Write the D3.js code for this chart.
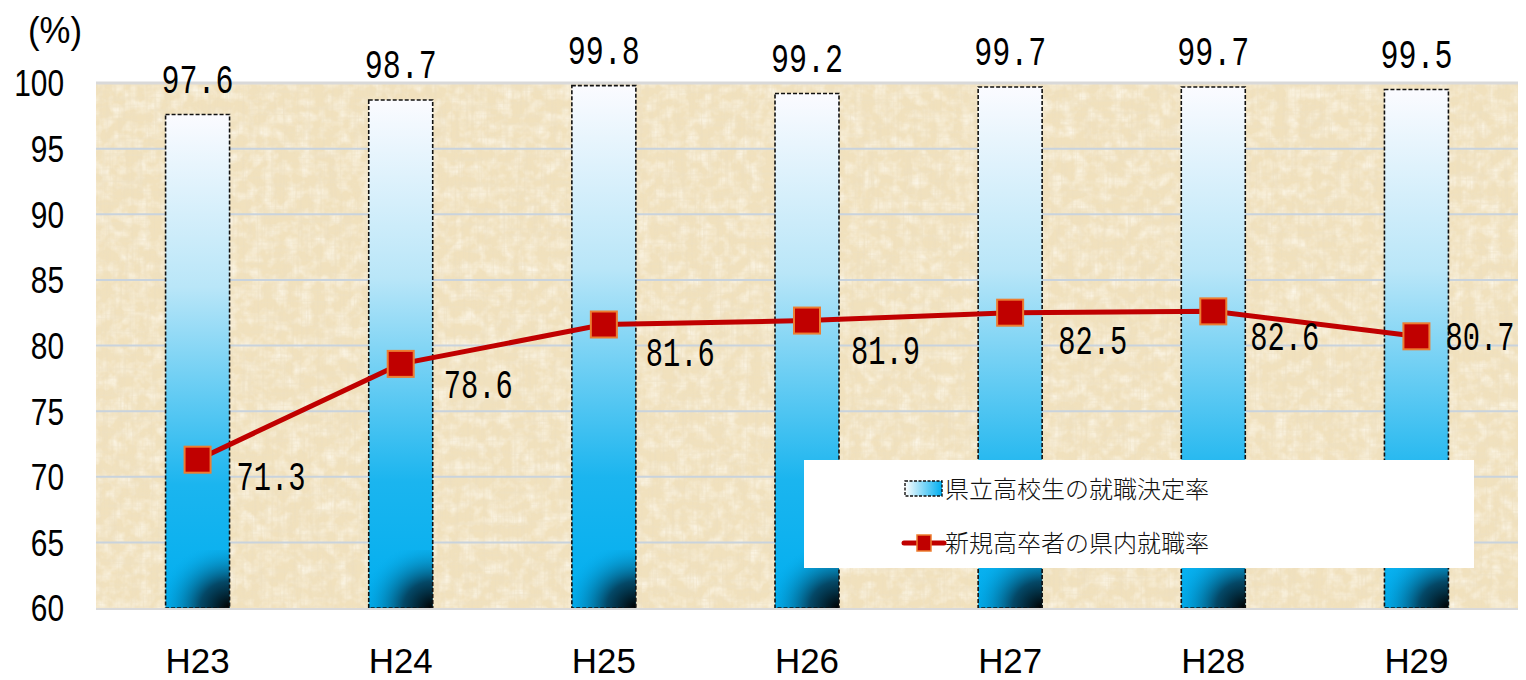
<!DOCTYPE html>
<html><head><meta charset="utf-8">
<script src="https://cdn.jsdelivr.net/npm/d3@7"></script>
<style>body{margin:0;background:#fff;}svg{display:block;}</style>
</head><body>
<svg id="chart" width="1526" height="680"></svg>
<script>
const categories = ["H23","H24","H25","H26","H27","H28","H29"];
const barValues = [97.6, 98.7, 99.8, 99.2, 99.7, 99.7, 99.5];
const lineValues = [71.3, 78.6, 81.6, 81.9, 82.5, 82.6, 80.7];
const yTicks = [60,65,70,75,80,85,90,95,100];
const barName = "県立高校生の就職決定率";
const lineName = "新規高卒者の県内就職率";
// label placement offsets (layout only), in pixels from the marker centre
const lineLabelDx = [39, 43, 42, 44, 48, 37, 29];
const lineLabelDy = [16, 20, 27, 29, 27, 25, 0];

const svg = d3.select("#chart");
const pL = 96, pR = 1518, pT = 83, pB = 608;
const x = d3.scaleBand().domain(categories).range([pL, pR]).paddingInner(0.685).paddingOuter(0.3425);
const y = d3.scaleLinear().domain([60, 100]).range([pB, pT]);

const defs = svg.append("defs");
const bg = defs.append("linearGradient").attr("id","barGrad").attr("x1",0).attr("y1",0).attr("x2",0).attr("y2",1);
bg.append("stop").attr("offset","0%").attr("stop-color","#fbfbff");
bg.append("stop").attr("offset","35%").attr("stop-color","#b9e6f8");
bg.append("stop").attr("offset","75%").attr("stop-color","#1bb5ef");
bg.append("stop").attr("offset","100%").attr("stop-color","#00aeef");
const rg = defs.append("radialGradient").attr("id","darkGrad").attr("cx","100%").attr("cy","100%").attr("r","115%").attr("fx","100%").attr("fy","100%");
rg.append("stop").attr("offset","0%").attr("stop-color","#000").attr("stop-opacity",1);
rg.append("stop").attr("offset","40%").attr("stop-color","#04364f").attr("stop-opacity",0.85);
rg.append("stop").attr("offset","100%").attr("stop-color","#00aeef").attr("stop-opacity",0);
const lg = defs.append("linearGradient").attr("id","legGrad").attr("x1",0).attr("y1",0).attr("x2",1).attr("y2",0);
lg.append("stop").attr("offset","0%").attr("stop-color","#ffffff");
lg.append("stop").attr("offset","100%").attr("stop-color","#00aeef");

function texFilter(id, freq, seed, rgb, a, b) {
  const f = defs.append("filter").attr("id",id).attr("x",0).attr("y",0).attr("width","100%").attr("height","100%");
  f.append("feTurbulence").attr("type","fractalNoise").attr("baseFrequency",freq).attr("numOctaves",3).attr("seed",seed).attr("result","n");
  f.append("feColorMatrix").attr("in","n").attr("type","matrix")
   .attr("values",`0 0 0 0 ${rgb[0]}  0 0 0 0 ${rgb[1]}  0 0 0 0 ${rgb[2]}  ${a} 0 0 0 ${b}`).attr("result","c");
  f.append("feComposite").attr("in","c").attr("in2","SourceGraphic").attr("operator","in");
}
texFilter("texV", "0.35 0.02", 3, [0.84,0.73,0.52], 1.4, -0.62);
texFilter("texH", "0.02 0.35", 7, [0.85,0.75,0.55], 1.4, -0.64);
texFilter("texL", "0.08 0.08", 11, [1,0.98,0.92], 1.4, -0.55);

// plot background
const bgG = svg.append("g");
bgG.append("rect").attr("x",pL).attr("y",pT).attr("width",pR-pL).attr("height",pB-pT).attr("fill","#f1e1bd");
["texL","texV","texH"].forEach(id => {
  bgG.append("rect").attr("x",pL).attr("y",pT).attr("width",pR-pL).attr("height",pB-pT).attr("fill","#fff").attr("filter",`url(#${id})`);
});

// gridlines
svg.append("g").selectAll("line").data(yTicks.filter(d=>d>60 && d<100)).join("line")
  .attr("x1",pL).attr("x2",pR).attr("y1",d=>y(d)).attr("y2",d=>y(d))
  .attr("stroke","#c9d3dd").attr("stroke-width",2);
svg.append("line").attr("x1",pL).attr("x2",pR).attr("y1",pT).attr("y2",pT).attr("stroke","#d9d9d9").attr("stroke-width",3);

// y axis
const yAxis = d3.axisLeft(y).tickValues(yTicks).tickSize(0).tickPadding(0);
const ya = svg.append("g").attr("transform","translate(64,0)").call(yAxis);
ya.select(".domain").remove();
ya.selectAll("text").attr("font-family","Liberation Sans, Arial, sans-serif").attr("font-size",36).attr("fill","#000").attr("dy","0.36em")
  .attr("textLength", d => String(d).length*16.6).attr("lengthAdjust","spacingAndGlyphs");

// x axis
const xAxis = d3.axisBottom(x).tickSize(0).tickPadding(0);
const xa = svg.append("g").attr("transform","translate(0,648)").call(xAxis);
xa.select(".domain").remove();
xa.selectAll("text").attr("font-family","Liberation Sans, Arial, sans-serif").attr("font-size",35).attr("fill","#000").attr("dy","0.71em")
  .attr("textLength",64).attr("lengthAdjust","spacingAndGlyphs");

// bars
const bars = svg.append("g");
bars.selectAll("rect.bar").data(barValues).join("rect").attr("class","bar")
  .attr("x",(d,i)=>x(categories[i])).attr("width",x.bandwidth())
  .attr("y",d=>y(d)).attr("height",d=>pB-y(d))
  .attr("fill","url(#barGrad)");
bars.selectAll("rect.dark").data(barValues).join("rect").attr("class","dark")
  .attr("x",(d,i)=>x(categories[i])).attr("width",x.bandwidth())
  .attr("y",pB-58).attr("height",58)
  .attr("fill","url(#darkGrad)");
bars.selectAll("rect.border").data(barValues).join("rect").attr("class","border")
  .attr("x",(d,i)=>x(categories[i])).attr("width",x.bandwidth())
  .attr("y",d=>y(d)).attr("height",d=>pB-y(d))
  .attr("fill","none").attr("stroke","#111").attr("stroke-width",1.6).attr("stroke-dasharray","4,2");

// x axis line
svg.append("line").attr("x1",pL).attr("x2",pR).attr("y1",pB+1).attr("y2",pB+1).attr("stroke","#d9d9d9").attr("stroke-width",2);

// bar labels
const fmt = d3.format(".1f");
svg.append("g").selectAll("text").data(barValues).join("text")
  .attr("x",(d,i)=>x(categories[i])+x.bandwidth()/2).attr("y",d=>y(d)-22)
  .attr("text-anchor","middle").attr("font-family","Liberation Mono, DejaVu Sans Mono, monospace")
  .attr("font-size",41).attr("fill","#000")
  .attr("textLength",72).attr("lengthAdjust","spacingAndGlyphs")
  .text(d=>fmt(d));

// line
const cx = i => x(categories[i]) + x.bandwidth()/2;
const line = d3.line().x((d,i)=>cx(i)).y(d=>y(d)).curve(d3.curveLinear);
svg.append("path").datum(lineValues).attr("d",line).attr("fill","none").attr("stroke","#c00000").attr("stroke-width",5);
svg.append("g").selectAll("rect").data(lineValues).join("rect")
  .attr("x",(d,i)=>cx(i)-13).attr("y",d=>y(d)-13).attr("width",26).attr("height",26)
  .attr("fill","#c00000").attr("stroke","#ed7d31").attr("stroke-width",2);
svg.append("g").selectAll("text").data(lineValues).join("text")
  .attr("x",(d,i)=>cx(i)+lineLabelDx[i]+69).attr("y",(d,i)=>y(d)+lineLabelDy[i]+14)
  .attr("text-anchor","end")
  .attr("font-family","Liberation Mono, DejaVu Sans Mono, monospace")
  .attr("font-size",41).attr("fill","#000")
  .attr("textLength",69).attr("lengthAdjust","spacingAndGlyphs")
  .text(d=>fmt(d));

// legend
const lgG = svg.append("g");
lgG.append("rect").attr("x",804).attr("y",460).attr("width",670).attr("height",108).attr("fill","#fff");
lgG.append("rect").attr("x",905).attr("y",481).attr("width",37).attr("height",15).attr("fill","url(#legGrad)")
  .attr("stroke","#111").attr("stroke-width",1.4).attr("stroke-dasharray","3,1.5");
lgG.append("text").attr("x",945).attr("y",489).attr("dy","0.36em").attr("font-family","Noto Sans CJK JP").attr("font-weight",300).attr("font-size",24).attr("fill","#111").text(barName);
lgG.append("line").attr("x1",904).attr("x2",944).attr("y1",543).attr("y2",543).attr("stroke","#c00000").attr("stroke-width",5).attr("stroke-linecap","round");
lgG.append("rect").attr("x",917).attr("y",535).attr("width",14).attr("height",16).attr("fill","#c00000").attr("stroke","#ed7d31").attr("stroke-width",1.5);
lgG.append("text").attr("x",945).attr("y",543).attr("dy","0.36em").attr("font-family","Noto Sans CJK JP").attr("font-weight",300).attr("font-size",24).attr("fill","#111").text(lineName);

// unit
svg.append("text").attr("x",28).attr("y",30).attr("dy","0.36em").attr("font-family","Liberation Sans, Arial, sans-serif").attr("font-size",36).attr("fill","#000")
  .attr("textLength",54).attr("lengthAdjust","spacingAndGlyphs").text("(%)");
</script>
</body></html>
